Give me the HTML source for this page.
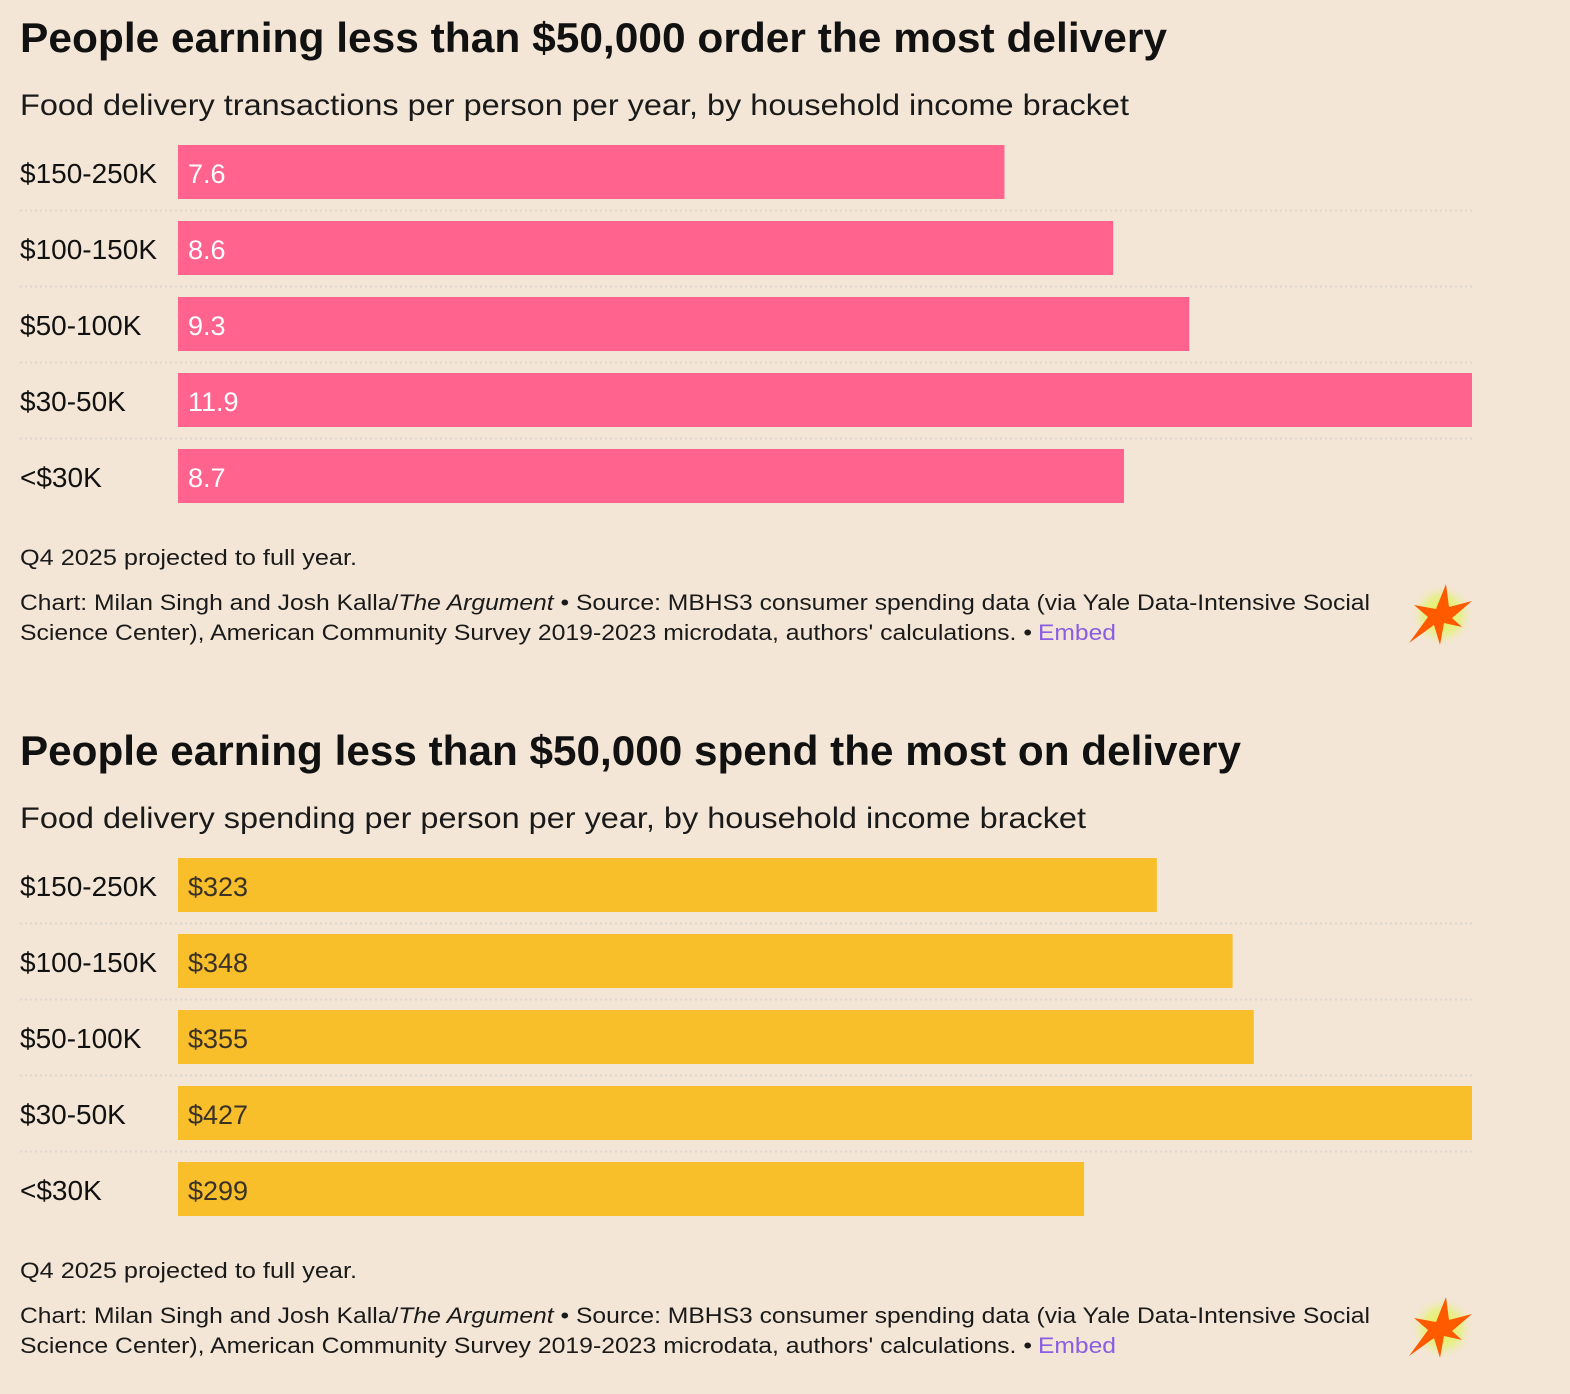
<!DOCTYPE html>
<html><head><meta charset="utf-8"><style>
html,body{margin:0;padding:0;background:#f3e6d6;}
svg{display:block;font-family:"Liberation Sans",sans-serif;}
</style></head><body>
<svg id="root" width="1570" height="1394" viewBox="0 0 1570 1394" xmlns="http://www.w3.org/2000/svg">
<rect width="1570" height="1394" fill="#f3e6d6"/>
<defs>
<radialGradient id="glow"><stop offset="0" stop-color="#e6f53a"/><stop offset="0.6" stop-color="#e6f080" stop-opacity="0.8"/><stop offset="1" stop-color="#f3e6d6" stop-opacity="0"/></radialGradient>
</defs>
</svg>
<script>
const categories=["$150-250K","$100-150K","$50-100K","$30-50K","<$30K"];
const transactions=[7.6,8.6,9.3,11.9,8.7];
const spending=[323,348,355,427,299];
const transLabels=["7.6","8.6","9.3","11.9","8.7"];
const spendLabels=["$323","$348","$355","$427","$299"];

const NS="http://www.w3.org/2000/svg";
const root=document.getElementById('root');
function mk(tag,attrs,parent){const e=document.createElementNS(NS,tag);for(const k in attrs)e.setAttribute(k,attrs[k]);(parent||root).appendChild(e);return e;}
function txt(s,x,y,size,opts,parent){opts=opts||{};const t=mk('text',{x:x,y:y,'font-size':size,fill:opts.fill||'#111','font-weight':opts.bold?'bold':'normal'},parent);if(opts.len){t.setAttribute('textLength',opts.len);t.setAttribute('lengthAdjust','spacingAndGlyphs');}t.textContent=s;return t;}

function chart(off,title,titleLen,sub,subLen,vals,labels,color,valColor,name){
  const g=mk('g',{});
  
  
  const t=txt(title,20,off+52,42,{bold:true,len:titleLen},g);
  
  
  const s=txt(sub,20,off+115,30,{len:subLen,fill:'#1a1a1a'},g);
  
  
  const x0=178,x1=1472,max=Math.max(...vals);
  const xs=v=>x0+(v/max)*(x1-x0);
  categories.forEach((c,i)=>{
    const y=off+145+76*i;
    const l=txt(c,20,y+38,28,{fill:'#111'},g);
    
    
    const r=mk('rect',{x:x0,y:y,width:xs(vals[i])-x0,height:54,fill:color},g);
    
    
    const v=txt(labels[i],188,y+38,27,{fill:valColor},g);
    
    
    if(i<categories.length-1){
      const ln=mk('line',{x1:20,x2:1473,y1:y+65.5,y2:y+65.5,stroke:'#ddd7cf','stroke-width':2,'stroke-dasharray':'2 3'},g);
      
      
    }
  });
  const n=txt('Q4 2025 projected to full year.',20,off+565,22,{len:337,fill:'#1a1a1a'},g);
  
  
  const c1=mk('text',{x:20,y:off+610,'font-size':22,fill:'#1a1a1a',textLength:1350,lengthAdjust:'spacingAndGlyphs'},g);
  
  
  c1.innerHTML='Chart: Milan Singh and Josh Kalla/<tspan font-style="italic">The Argument</tspan> • Source: MBHS3 consumer spending data (via Yale Data-Intensive Social';
  const c2=txt("Science Center), American Community Survey 2019-2023 microdata, authors' calculations.  •",20,off+640,22,{len:1012,fill:'#1a1a1a'},g);
  
  
  const e=txt('Embed',1038,off+640,22,{len:78,fill:'#8a5ee0'},g);
  
  
  const lg=mk('g',{transform:'translate(1442,'+(off+615)+')'},g);
  
  
  mk('circle',{cx:0,cy:0,r:32,fill:'url(#glow)'},lg);
  mk('polygon',{points:'4,-31 7,-8 30,-14 10,3 20,12 2,8 -2,30 -8,10 -33,28 -14,2 -28,-10 -6,-6',fill:'#ff5a00'},lg);
}
chart(0,'People earning less than $50,000 order the most delivery',1147,'Food delivery transactions per person per year, by household income bracket',1109,transactions,transLabels,'#ff638e','#ffffff','transactions-chart');
chart(713,'People earning less than $50,000 spend the most on delivery',1221,'Food delivery spending per person per year, by household income bracket',1066,spending,spendLabels,'#f8bf2a','#3a3226','spending-chart');
</script>
</body></html>
